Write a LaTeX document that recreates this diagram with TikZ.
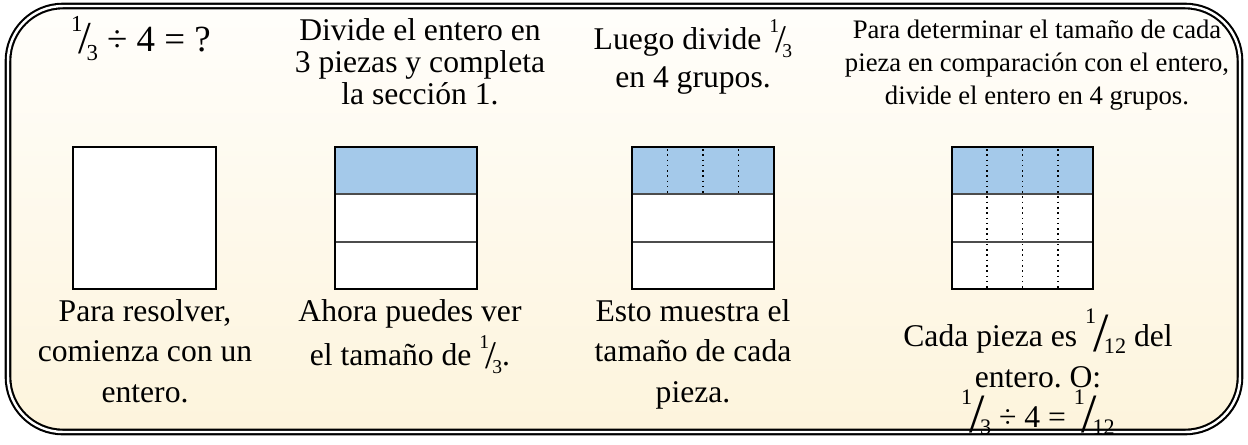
\documentclass[tikz,border=0pt]{standalone}
\usepackage{fontspec}
\setmainfont{Liberation Serif}
\usepackage{graphicx}
\usepackage{xcolor}
\usepackage{tikz}
\usetikzlibrary{calc}
\frenchspacing

\definecolor{creamtop}{HTML}{FFFEFB}
\definecolor{creambot}{HTML}{FDF4DC}
\definecolor{pieceblue}{HTML}{A4C9EA}

% slanted fractions
\newcommand{\fr}[2]{\raisebox{.54em}{\scalebox{.62}{#1}}\kern-.12em\raisebox{-.08em}{\scalebox{1.24}{/}}\kern-.12em\raisebox{-.25em}{\scalebox{.62}{#2}}}
\newcommand{\bigfr}[2]{\raisebox{.72em}{\scalebox{.7}{#1}}\kern-.1em\raisebox{-.15em}{\scalebox{1.75}{/}}\kern-.14em\raisebox{-.22em}{\scalebox{.7}{#2}}}

\begin{document}
\begin{tikzpicture}[x=0.02cm, y=-0.02cm,
  piece/.style={draw=black, line width=1.1pt, fill=white},
  cut/.style={draw=black!70, line width=1.1pt},
  group/.style={line width=1pt, dash pattern=on .9pt off 2.1pt},
  txt/.style={align=center, inner sep=0pt, font=\fontsize{18}{18.2}\selectfont},
  lowtxt/.style={align=center, inner sep=0pt, font=\fontsize{18}{23}\selectfont}]

\useasboundingbox (0,0) rectangle (1248,444);

% frame
\fill[black!25, rounded corners=1.1cm] (10.5,8.5) rectangle (1242.5,434.5);
\shade[top color=creamtop, bottom color=creambot, rounded corners=1.1cm] (8,6) rectangle (1240,432);
\draw[line width=1.2pt, double=white, double distance=1.4pt, rounded corners=1.1cm] (8,6) rectangle (1240,432);

% the whole
\draw[piece] (73,147) rectangle (216,289);

% thirds
\foreach \xa/\xb in {335/477, 632/774, 952/1093}{
  \fill[white] (\xa,147) rectangle (\xb,289);
  \fill[pieceblue] (\xa,147) rectangle (\xb,194.3);
  \draw[cut] (\xa,194.3) -- (\xb,194.3) (\xa,241.7) -- (\xb,241.7);
}
% groups of four
\foreach \x in {667.5,703,738.5} \draw[group] (\x,149) -- (\x,193);
\foreach \x in {987.25,1022.5,1057.75} \draw[group] (\x,149) -- (\x,288);
\foreach \xa/\xb in {335/477, 632/774, 952/1093}
  \draw[line width=1.1pt] (\xa,147) rectangle (\xb,289);

% texts
\node[txt, anchor=base, font=\fontsize{21}{21}\selectfont] (q) at (141,51) {\fr{1}{3} ÷ 4 = ?};
\node[txt] (s2) at (420,62) {Divide el entero en\\3 piezas y completa\\la sección 1.};
\node[txt] (s3) at (693,57) {Luego divide \fr{1}{3}\\[3.5pt]en 4 grupos.};
\node[txt, font=\fontsize{15.2}{18.8}\selectfont] (s4) at (1037,65)
  {Para determinar el tamaño de cada\\pieza en comparación con el entero,\\divide el entero en 4 grupos.};

\node[lowtxt] (b1) at (145,351) {Para resolver,\\comienza con un\\entero.};
\node[lowtxt] (b2) at (410,337) {Ahora puedes ver\\[2pt]el tamaño de \fr{1}{3}.};
\node[lowtxt] (b3) at (693,354) {Esto muestra el\\tamaño de cada\\pieza.};
\node[lowtxt] (b4) at (1038,372) {Cada pieza es \bigfr{1}{12} del\\entero. O:\\\bigfr{1}{3} ÷ 4 = \bigfr{1}{12}};
\end{tikzpicture}
\end{document}
